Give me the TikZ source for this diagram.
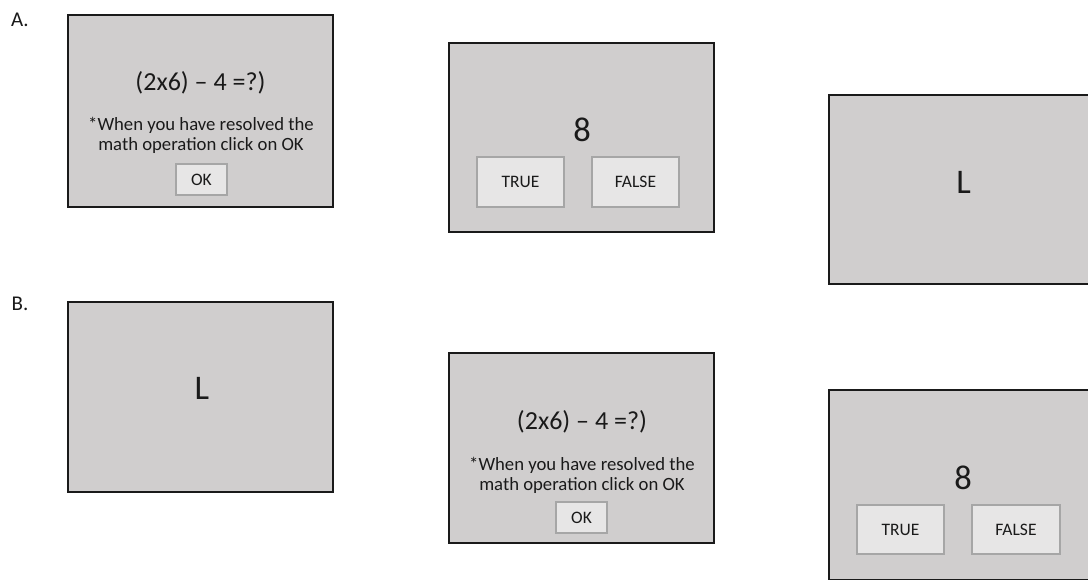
\documentclass[tikz,border=0pt]{standalone}
\usepackage{fontspec}
\setmainfont{Carlito}
\definecolor{panelgray}{HTML}{D0CECE}
\definecolor{btngray}{HTML}{E7E6E6}
\definecolor{btnborder}{HTML}{A6A6A6}
\definecolor{ink}{HTML}{1A1A1A}
\begin{document}
\begin{tikzpicture}[x=1pt,y=-1pt,
  panel/.style={draw=ink, line width=1.3pt, fill=panelgray, inner sep=0pt, outer sep=0pt, minimum width=265pt},
  btn/.style={draw=btnborder, line width=1.2pt, fill=btngray, inner sep=0pt, font=\fontsize{17.5}{20}\selectfont, text=ink},
  eqtxt/.style={font=\fontsize{26}{30}\selectfont, text=ink, inner sep=0pt},
  bigtxt/.style={font=\fontsize{34.5}{40}\selectfont, text=ink, inner sep=0pt},
  smalltxt/.style={font=\fontsize{18.7}{20}\selectfont, text=ink, align=center, inner sep=0pt},
  lbl/.style={font=\fontsize{21}{23}\selectfont, text=ink, inner sep=0pt}]
\useasboundingbox[fill=white] (0,0) rectangle (1088,579);
% labels
\node[lbl] (la) at (20,20) {A.};
\node[lbl] (lb) at (20,304) {B.};
% A1
\node[panel, minimum height=192pt] (a1) at (200.5,111) {};
\node[eqtxt] (a1t) at (200.5,82.5) {(2x6) – 4 =?)};
\node[smalltxt] (a1s) at (201,135.5) {*When you have resolved the\\math operation click on OK};
\node[btn, minimum width=51pt, minimum height=31pt] (a1ok) at (201.5,179.5) {OK};
% A2
\node[panel, minimum height=189pt] (a2) at (581.5,137.5) {};
\node[bigtxt] (a2t) at (582,129.5) {8};
\node[btn, minimum width=87pt, minimum height=50pt] (a2tr) at (520.5,182) {TRUE};
\node[btn, minimum width=87pt, minimum height=50pt] (a2fa) at (635.5,182) {FALSE};
% A3
\node[panel, minimum height=189pt] (a3) at (961.5,189.5) {};
\node[bigtxt] (a3t) at (963.5,182) {L};
% B1
\node[panel, minimum height=190pt] (b1) at (200.5,397) {};
\node[bigtxt] (b1t) at (202,388) {L};
% B2
\node[panel, minimum height=190pt] (b2) at (581.5,448) {};
\node[eqtxt] (b2t) at (582,421.5) {(2x6) – 4 =?)};
\node[smalltxt] (b2s) at (582,475) {*When you have resolved the\\math operation click on OK};
\node[btn, minimum width=51pt, minimum height=31pt] (b2ok) at (581.5,517.5) {OK};
% B3
\node[panel, minimum height=190pt] (b3) at (961.5,485) {};
\node[bigtxt] (b3t) at (963,478) {8};
\node[btn, minimum width=87pt, minimum height=49pt] (b3tr) at (900.5,529.5) {TRUE};
\node[btn, minimum width=88pt, minimum height=49pt] (b3fa) at (1016,529.5) {FALSE};
\end{tikzpicture}
\end{document}
